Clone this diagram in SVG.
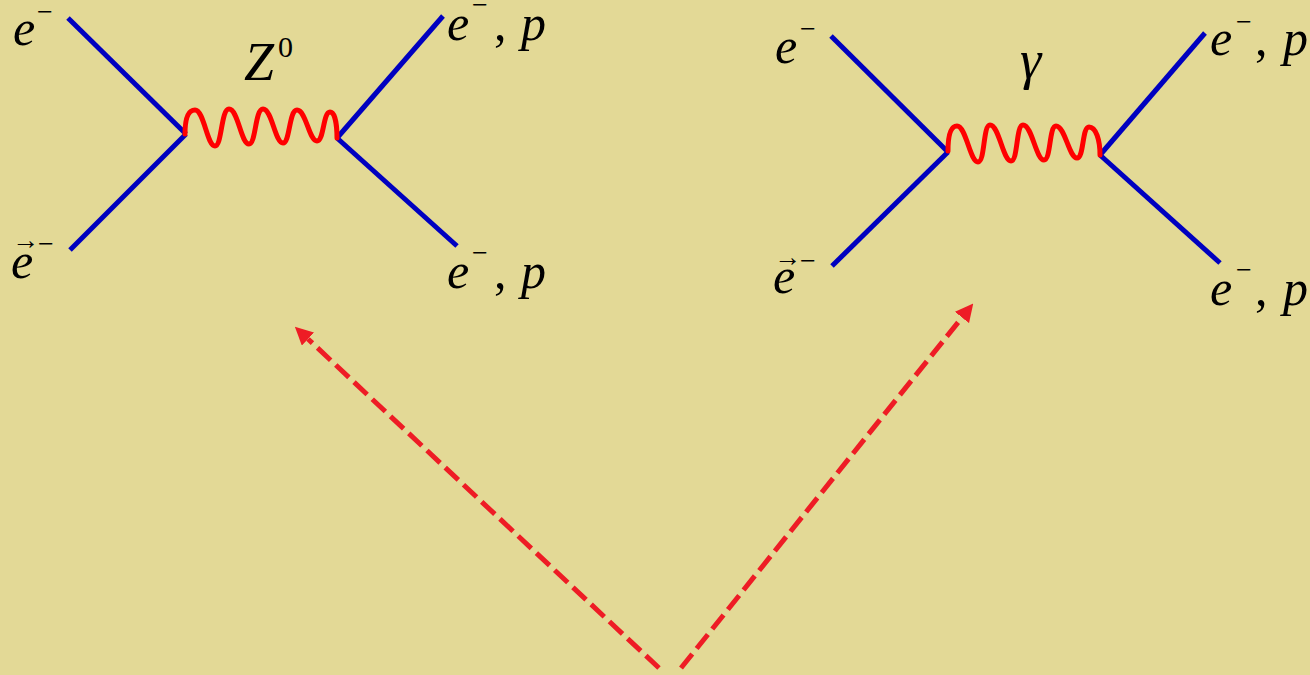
<svg xmlns="http://www.w3.org/2000/svg" width="1310" height="675" viewBox="0 0 1310 675">
<style>
.fermion{stroke:#0000C0;stroke-width:5;fill:none;stroke-linecap:butt}
.boson{stroke:#FF0000;stroke-width:5;fill:none;stroke-linecap:round;stroke-linejoin:round}
text{font-family:'Liberation Serif','Times New Roman',serif;fill:#000}
.it{font-style:italic;font-size:50px}
.rm{font-style:normal}
.sup{font-size:28px}
.acc{font-size:27px}
.dash{stroke:#EE1C25;stroke-width:5;fill:none;stroke-dasharray:18 7}
</style>
<defs>
<marker id="ah" markerUnits="userSpaceOnUse" viewBox="0 0 18 18" markerWidth="18" markerHeight="18" refX="0" refY="9" orient="auto">
<path d="M0,0 L18,9 L0,18 Z" fill="#EE1C25" stroke="none"/>
</marker>
</defs>
<rect x="0" y="0" width="1310" height="675" fill="#E3D996"/>

<g id="diagram-z">
<line class="fermion" x1="68" y1="18" x2="186" y2="134"/>
<line class="fermion" x1="70" y1="250" x2="186" y2="134"/>
<line class="fermion" x1="337" y1="138" x2="443" y2="16"/>
<line class="fermion" x1="337" y1="138" x2="457" y2="246"/>
<path class="boson" d="M185,134 C185,118 188,110 195,110 C204,110 207,146 215,146 C222,146 221,109 229,109 C238,109 241,144 249,144 C256,144 255,109 263,109 C272,109 275,143 283,143 C290,143 289,110 297,110 C306,110 309,141 317,141 C324,141 323,112 330,112 C335,112 337,125 337,138"/>
<text class="it" x="13" y="45">e</text>
<text class="rm sup" x="37" y="21">−</text>
<text class="rm acc" x="12" y="249">→</text>
<text class="it" x="11" y="278">e</text>
<text class="rm sup" x="38" y="253">−</text>
<text class="it" x="244" y="80" style="font-size:54px">Z</text>
<text class="rm" x="278" y="57" style="font-size:30px">0</text>
<text class="it" x="447" y="40">e</text>
<text class="rm sup" x="472" y="14">−</text>
<text class="rm" x="494" y="40" style="font-size:50px">,</text>
<text class="it" x="521" y="40">p</text>
<text class="it" x="447" y="288">e</text>
<text class="rm sup" x="472" y="262">−</text>
<text class="rm" x="494" y="288" style="font-size:50px">,</text>
<text class="it" x="521" y="288">p</text>
</g>

<g id="diagram-gamma">
<line class="fermion" x1="831" y1="36" x2="948" y2="152"/>
<line class="fermion" x1="832" y1="266" x2="948" y2="152"/>
<line class="fermion" x1="1100" y1="155" x2="1205" y2="33"/>
<line class="fermion" x1="1100" y1="155" x2="1220" y2="263"/>
<path class="boson" d="M948,151 C948,135 951,126 957,126 C966,126 970,162 978,162 C985,162 983,125 990,125 C999,125 1003,161 1011,161 C1018,161 1016,125 1023,125 C1032,125 1036,160 1044,160 C1051,160 1049,126 1056,126 C1065,126 1069,158 1077,158 C1084,158 1082,127 1089,127 C1096,127 1100,140 1100,155"/>
<text class="it" x="775" y="63">e</text>
<text class="rm sup" x="800" y="38">−</text>
<text class="rm acc" x="774" y="266">→</text>
<text class="it" x="773" y="293">e</text>
<text class="rm sup" x="800" y="270">−</text>
<text class="it" x="1020" y="78" style="font-size:54px">γ</text>
<text class="it" x="1210" y="55">e</text>
<text class="rm sup" x="1236" y="31">−</text>
<text class="rm" x="1255" y="55" style="font-size:50px">,</text>
<text class="it" x="1283" y="55">p</text>
<text class="it" x="1210" y="305">e</text>
<text class="rm sup" x="1236" y="279">−</text>
<text class="rm" x="1255" y="305" style="font-size:50px">,</text>
<text class="it" x="1283" y="305">p</text>
</g>

<g id="connectors">
<line class="dash" x1="659" y1="668" x2="308" y2="339" marker-end="url(#ah)"/>
<line class="dash" x1="681" y1="668" x2="962" y2="317.5" marker-end="url(#ah)"/>
</g>
</svg>
